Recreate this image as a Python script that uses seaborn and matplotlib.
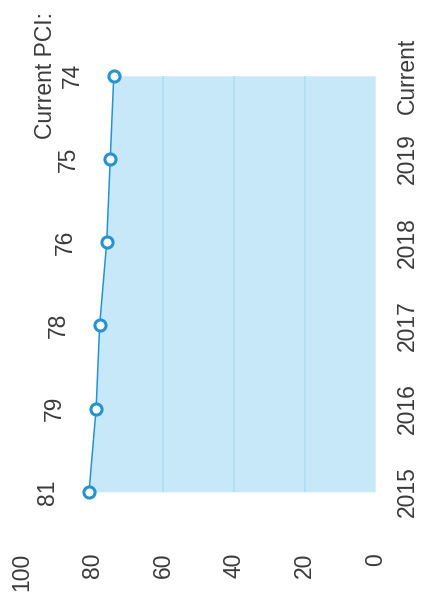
import numpy as np
import pandas as pd
import seaborn as sns
import matplotlib.pyplot as plt

# PCI history (chart is printed rotated 90 degrees)
years = ['2015', '2016', '2017', '2018', '2019', 'Current']
pci = [81, 79, 78, 76, 75, 74]
value_ticks = [100, 80, 60, 40, 20, 0]
grid_vals = [20, 40, 60]

line_col = '#2393d4'
fill_col = '#c6e8f8'
grid_col = '#b0dff4'
text_col = '#3a3a3a'

sns.set_theme(style='white')
plt.rcParams['font.family'] = ['Liberation Sans', 'DejaVu Sans']

df = pd.DataFrame({'year': years, 'pci': pci, 'pos': np.arange(len(years))})

fig = plt.figure(figsize=(4.22, 6.0), dpi=100)
ax = fig.add_axes([0.052, 0.111, 0.837, 0.832])

# area under the line
ax.fill_betweenx(df['pos'], 0, df['pci'], color=fill_col, lw=0, zorder=1)
ax.vlines(grid_vals, df['pos'].min(), df['pos'].max(), colors=grid_col, lw=1.3, zorder=2)

sns.lineplot(data=df, x='pci', y='pos', orient='y', ax=ax, color=line_col, lw=1.1,
             marker='o', markersize=8, markerfacecolor='white',
             markeredgecolor=line_col, markeredgewidth=2.2, zorder=3)

for p, v in zip(df['pos'], df['pci']):
    ax.annotate(str(v), (v, p), xytext=(-30, 0), textcoords='offset points',
                rotation=90, ha='center', va='center', fontsize=16.5, color=text_col)
ax.annotate('Current PCI:', (pci[-1], df['pos'].iloc[-1]), xytext=(-49, 0),
            textcoords='offset points', rotation=90, ha='center', va='center',
            fontsize=16.5, color=text_col, annotation_clip=False)

ax.set_xlim(100, 0)
ax.set_ylim(-0.5, len(years) - 0.5)
ax.set_xticks(value_ticks)
ax.set_xticklabels([str(t) for t in value_ticks], rotation=90, va='top', ha='center')
ax.set_yticks(df['pos'])
ax.set_yticklabels(years, rotation=90, va='center', ha='left')
ax.yaxis.tick_right()
ax.tick_params(axis='x', length=0, pad=14, labelsize=16.5, labelcolor=text_col)
ax.tick_params(axis='y', length=0, pad=15, labelsize=16.5, labelcolor=text_col)
ax.set_xlabel('')
ax.set_ylabel('')
ax.grid(False)
for s in ax.spines.values():
    s.set_visible(False)

fig.savefig('out.png', dpi=100, facecolor='white')
